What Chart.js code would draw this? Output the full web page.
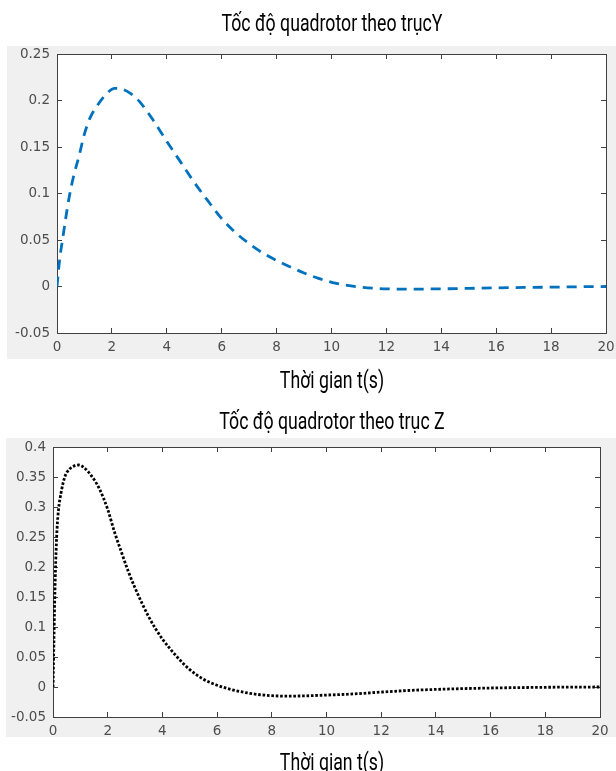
<!DOCTYPE html>
<html>
<head>
<meta charset="utf-8">
<script src="https://cdn.jsdelivr.net/npm/chart.js@4/dist/chart.umd.min.js"></script>
<style>
  html, body { margin: 0; padding: 0; background: #fff; overflow: hidden; }
  .wrap { position: absolute; left: 0; }
  .txt {
    position: absolute; left: 0; width: 664px; height: 24px;
    text-align: center; white-space: nowrap;
    font-family: Roboto, "Noto Sans", sans-serif; font-size: 23px; line-height: 24px;
    color: #000; transform: scaleX(0.77); transform-origin: center;
  }
</style>
</head>
<body>
<div class="wrap" style="top:0"><canvas id="chartY" width="616" height="396"></canvas></div>
<div class="wrap" style="top:396px"><canvas id="chartZ" width="616" height="381"></canvas></div>
<div class="txt" id="titleY" style="top:12px"></div>
<div class="txt" id="labelY" style="top:369px"></div>
<div class="txt" id="titleZ" style="top:410px"></div>
<div class="txt" id="labelZ" style="top:751px"></div>
<script>
// du lieu doc tu hinh
const titleY = "Tốc độ quadrotor theo trụcY";
const titleZ = "Tốc độ quadrotor theo trục Z";
const xLabel = "Thời gian t(s)";

const timeY = [0, 0.1, 0.2, 0.3, 0.45, 0.6, 0.8, 1.0, 1.2, 1.5, 1.8, 2.1, 2.4, 2.7, 3.0, 3.5, 4.0, 4.5, 5.0, 5.5, 6.0, 6.5, 7.0, 7.5, 8.0, 8.5, 9.0, 9.5, 10, 10.5, 11, 12, 13, 14, 15, 16, 17, 18, 19, 20];
const speedY = [0, 0.03, 0.05, 0.07, 0.097, 0.118, 0.14, 0.164, 0.181, 0.196, 0.207, 0.213, 0.212, 0.207, 0.199, 0.179, 0.156, 0.134, 0.112, 0.092, 0.073, 0.058, 0.046, 0.036, 0.028, 0.021, 0.0145, 0.009, 0.0045, 0.0015, -0.0005, -0.0025, -0.0028, -0.0025, -0.002, -0.0015, -0.001, -0.0007, -0.0003, 0];

const timeZ = [0, 0.03, 0.06, 0.1, 0.15, 0.2, 0.3, 0.43, 0.6, 0.8, 0.95, 1.1, 1.3, 1.5, 1.7, 2.0, 2.25, 2.5, 2.75, 3.0, 3.25, 3.5, 3.75, 4.0, 4.5, 5.0, 5.5, 6.0, 6.5, 7.0, 7.5, 8.0, 8.5, 9.0, 10, 11, 12, 13, 14, 15, 16, 17, 18, 19, 20];
const speedZ = [0, 0.07, 0.14, 0.21, 0.265, 0.295, 0.325, 0.35, 0.363, 0.369, 0.37, 0.367, 0.358, 0.346, 0.33, 0.296, 0.258, 0.225, 0.193, 0.165, 0.14, 0.117, 0.097, 0.08, 0.052, 0.029, 0.013, 0.003, -0.004, -0.009, -0.0125, -0.0145, -0.0152, -0.015, -0.0135, -0.0115, -0.0085, -0.0058, -0.004, -0.0027, -0.0017, -0.001, -0.0005, -0.0002, 0];

const xRange = [0, 20, 2];
const yRangeY = [-0.05, 0.25, 0.05];
const yRangeZ = [-0.05, 0.4, 0.05];

const tickFont = { family: "'DejaVu Sans', sans-serif", size: 13.5 };
const tickColor = "#4d4d4d";
const axisColor = "#404040";

document.getElementById("titleY").textContent = titleY;
document.getElementById("titleZ").textContent = titleZ;
document.getElementById("labelY").textContent = xLabel;
document.getElementById("labelZ").textContent = xLabel;

// nen xam cua figure
const grayBg = {
  id: "grayBg",
  beforeDraw(chart, args, opts) {
    const ctx = chart.ctx;
    ctx.save();
    ctx.fillStyle = "#f0f0f0";
    ctx.fillRect(opts.x, opts.y, opts.w, opts.h);
    ctx.fillStyle = "#fff";
    const a = chart.chartArea;
    ctx.fillRect(a.left, a.top, a.right - a.left, a.bottom - a.top);
    ctx.restore();
  },
};

function makeChart(id, xs, ys, yRange, style) {
  const pts = xs.map((x, i) => ({ x: x, y: ys[i] }));
  const fmt = (v) => String(Number(v.toFixed(2)));
  // truc phu tren / phai chi de ve khung va vach chia
  const side = (pos, w) => ({
    type: "linear",
    position: pos,
    min: pos === "top" ? xRange[0] : yRange[0],
    max: pos === "top" ? xRange[1] : yRange[1],
    ticks: { display: false, stepSize: pos === "top" ? xRange[2] : yRange[2] },
    grid: { drawOnChartArea: false, tickLength: -5, color: axisColor },
    border: { color: axisColor, width: 1 },
    afterFit: (s) => {
      if (pos === "top") s.height = 0; else s.width = w;
      s.paddingLeft = s.paddingRight = s.paddingTop = s.paddingBottom = 0;
    },
  });
  return new Chart(document.getElementById(id), {
    type: "line",
    data: {
      datasets: [{
        data: pts,
        borderColor: style.color,
        borderWidth: style.width,
        borderDash: style.dash,
        borderCapStyle: "butt",
        pointRadius: 0,
        fill: false,
        cubicInterpolationMode: "monotone",
      }],
    },
    plugins: [grayBg],
    options: {
      responsive: false,
      animation: false,
      layout: { padding: { top: style.top, left: 0, right: 0, bottom: 0 } },
      plugins: {
        legend: { display: false },
        tooltip: { enabled: false },
        grayBg: style.bg,
      },
      scales: {
        x: {
          type: "linear",
          min: xRange[0],
          max: xRange[1],
          ticks: { stepSize: xRange[2], color: tickColor, font: tickFont, padding: 11, maxRotation: 0 },
          grid: { drawOnChartArea: false, tickLength: -5, color: axisColor },
          border: { color: axisColor, width: 1 },
          afterFit: (s) => {
            s.height = style.xHeight;
            s.paddingLeft = 0;
            s.paddingRight = 0;
          },
        },
        y: {
          min: yRange[0],
          max: yRange[1],
          ticks: { stepSize: yRange[2], color: tickColor, font: tickFont, padding: 12, callback: fmt },
          grid: { drawOnChartArea: false, tickLength: -5, color: axisColor },
          border: { color: axisColor, width: 1 },
          afterFit: (s) => {
            s.width = style.left;
            s.paddingTop = 0;
            s.paddingBottom = 0;
          },
        },
        x2: side("top", 0),
        y2: side("right", style.right),
      },
    },
  });
}

makeChart("chartY", timeY, speedY, yRangeY, {
  color: "#0072bd", width: 2.8, dash: [10, 7],
  bg: { x: 7, y: 46, w: 609, h: 313 },
  top: 54, xHeight: 63, left: 57, right: 10,
});

makeChart("chartZ", timeZ, speedZ, yRangeZ, {
  color: "#000", width: 2.8, dash: [2.6, 1.8],
  bg: { x: 6, y: 42, w: 610, h: 299 },
  top: 51, xHeight: 60, left: 53, right: 16,
});
</script>
</body>
</html>
